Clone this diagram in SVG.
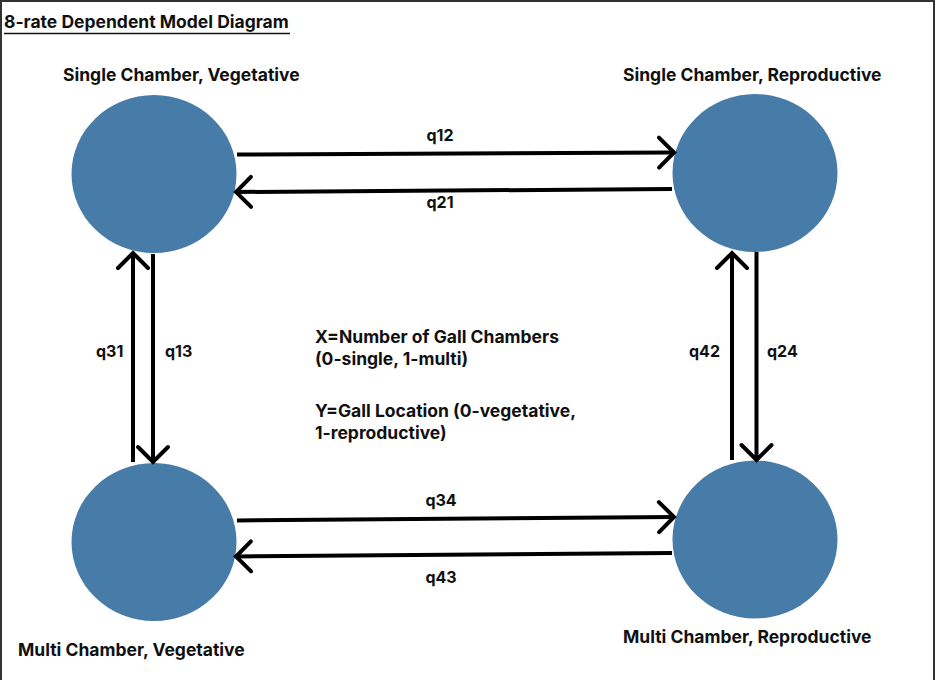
<svg xmlns="http://www.w3.org/2000/svg" width="936" height="680" viewBox="0 0 936 680">
<defs>
<style>
text{font-family:Inter,"Liberation Sans",sans-serif;font-weight:700;font-size:16px;fill:#111;}
.big{font-size:17.5px;}
.node{fill:#477CA9;}
.edge{stroke:#000;stroke-width:4;fill:none;}
.lbl{text-anchor:middle;}
</style>
<marker id="ah" markerUnits="userSpaceOnUse" markerWidth="40" markerHeight="40" refX="0" refY="0" orient="auto" overflow="visible">
<path d="M-15,-15 L0,0 L-15,15" fill="none" stroke="#000" stroke-width="4" stroke-linecap="round" stroke-linejoin="miter"/>
</marker>
</defs>
<rect x="0" y="0" width="936" height="680" fill="#fff"/>
<path d="M1,680 L1,1 L934,1 L934,680" fill="none" stroke="#333" stroke-width="2"/>
<g id="title">
<text x="4" y="28" style="font-size:17.5px">8-rate Dependent Model Diagram</text>
<line x1="4" y1="33.5" x2="290" y2="33.5" stroke="#111" stroke-width="1.5"/>
</g>
<g id="n1">
<ellipse class="node" cx="154" cy="174" rx="82.5" ry="79"/>
<text class="big" x="63" y="81">Single Chamber, Vegetative</text>
</g>
<g id="n2">
<ellipse class="node" cx="755" cy="173" rx="82.5" ry="79"/>
<text class="big" x="623" y="81">Single Chamber, Reproductive</text>
</g>
<g id="n3">
<ellipse class="node" cx="154" cy="542" rx="82.5" ry="79"/>
<text class="big" x="18" y="656">Multi Chamber, Vegetative</text>
</g>
<g id="n4">
<ellipse class="node" cx="755" cy="539.5" rx="82.5" ry="79"/>
<text class="big" x="623" y="643">Multi Chamber, Reproductive</text>
</g>
<g id="legend">
<text class="big" x="315" y="343">X=Number of Gall Chambers</text>
<text class="big" x="315" y="365">(0-single, 1-multi)</text>
<text class="big" x="315" y="417">Y=Gall Location (0-vegetative,</text>
<text class="big" x="315" y="439">1-reproductive)</text>
</g>
<g id="connectors">
<line class="edge" x1="237" y1="154.5" x2="674" y2="152.5" marker-end="url(#ah)"/>
<line class="edge" x1="672" y1="189" x2="236" y2="192" marker-end="url(#ah)"/>
<line class="edge" x1="237" y1="520.5" x2="674" y2="517" marker-end="url(#ah)"/>
<line class="edge" x1="672" y1="553" x2="236" y2="556.5" marker-end="url(#ah)"/>
<line class="edge" x1="133" y1="462" x2="133" y2="253" marker-end="url(#ah)"/>
<line class="edge" x1="153" y1="254" x2="153" y2="462" marker-end="url(#ah)"/>
<line class="edge" x1="732" y1="460" x2="732" y2="253" marker-end="url(#ah)"/>
<line class="edge" x1="756.5" y1="252" x2="756.5" y2="460" marker-end="url(#ah)"/>
<text class="lbl" x="440" y="141">q12</text>
<text class="lbl" x="440" y="208">q21</text>
<text class="lbl" x="441" y="506">q34</text>
<text class="lbl" x="441" y="583">q43</text>
<text x="96" y="357">q31</text>
<text x="165" y="357">q13</text>
<text x="689" y="357">q42</text>
<text x="767" y="357">q24</text>
</g>
</svg>
